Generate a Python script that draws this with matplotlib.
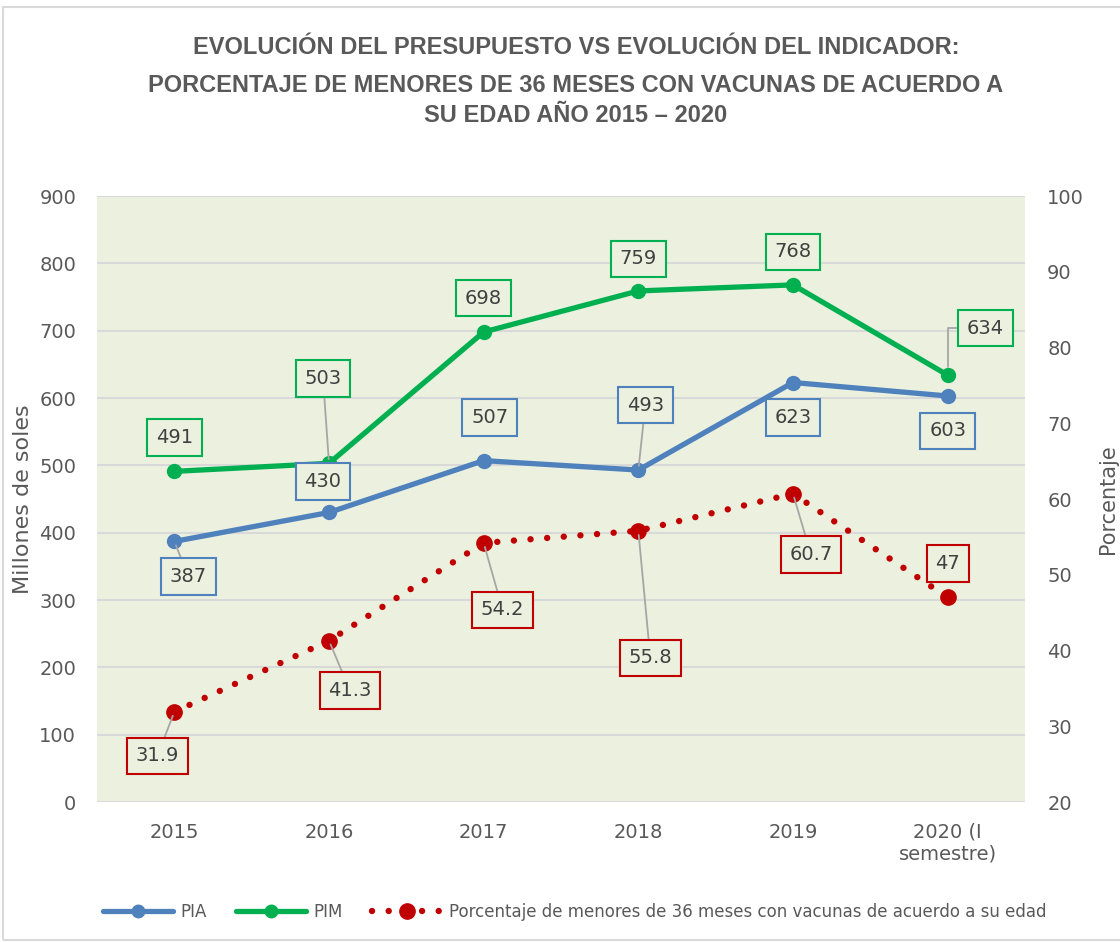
import matplotlib
matplotlib.use('Agg')
import matplotlib.pyplot as plt
from matplotlib.lines import Line2D
from matplotlib.patches import Rectangle

years = ['2015', '2016', '2017', '2018', '2019', '2020 (I\nsemestre)']
pia = [387, 430, 507, 493, 623, 603]
pim = [491, 503, 698, 759, 768, 634]
pct = [31.9, 41.3, 54.2, 55.8, 60.7, 47]
pct_labels = ['31.9', '41.3', '54.2', '55.8', '60.7', '47']

# label offsets in pixels (dx, dy) and whether a leader line is drawn
pia_off = [(14, -35, True), (-6, 31, False), (6, 43, False), (7, 65, True), (0, -35, False), (0, -35, False)]
pim_off = [(0, 34, False), (-6, 85, True), (0, 34, False), (0, 32, False), (0, 33, False), (38, 47, 'elbow')]
pct_off = [(-17, -44, True), (21, -50, True), (19, -67, True), (12, -127, True), (18, -61, True), (0, 34, False)]

c_pia = '#4F81BD'
c_pim = '#00B050'
c_pct = '#C00000'
c_txt = '#595959'
c_bg = '#EBF0DF'

plt.rcParams['font.family'] = ['DejaVu Sans']

fig = plt.figure(figsize=(11.2, 9.42), dpi=100)
fig.patches.append(Rectangle((3 / 1120, 2 / 942), 1.2, 1 - 9 / 942, transform=fig.transFigure,
                             fill=False, edgecolor='#D9D9D9', linewidth=1.5))

ax = fig.add_axes([97 / 1120, 1 - 802 / 942, 928 / 1120, 606 / 942])
ax.set_facecolor(c_bg)
x = list(range(len(years)))
ax.set_xlim(-0.5, len(years) - 0.5)
ax.set_ylim(0, 900)
ax.set_yticks(range(0, 1000, 100))
ax.grid(axis='y', color='#D9D9D9', linewidth=1.5)
ax.set_axisbelow(True)
for s in ax.spines.values():
    s.set_visible(False)
ax.tick_params(length=0, labelsize=14, labelcolor=c_txt, pad=15)
ax.tick_params(axis='x', pad=15)
ax.set_xticks(x)
ax.set_xticklabels(years, fontsize=14, color=c_txt)
ax.set_ylabel('Millones de soles', fontsize=16, color=c_txt)
ax.yaxis.set_label_coords(-0.069, 0.5)

ax.plot(x, pia, color=c_pia, linewidth=3.8, marker='o', markersize=10, solid_capstyle='round', zorder=3)
ax.plot(x, pim, color=c_pim, linewidth=3.8, marker='o', markersize=10, solid_capstyle='round', zorder=3)

ax2 = ax.twinx()
ax2.set_ylim(20, 100)
ax2.set_yticks(range(20, 110, 10))
for s in ax2.spines.values():
    s.set_visible(False)
ax2.tick_params(length=0, labelsize=14, labelcolor=c_txt, pad=16)
ax2.set_ylabel('Porcentaje', fontsize=15, color=c_txt)
ax2.yaxis.set_label_coords(1.079, 0.5)
ax2.plot(x, pct, color=c_pct, linewidth=4.6, linestyle=(0, (0.01, 2.6)), dash_capstyle='round', zorder=3)
ax2.plot(x, pct, color=c_pct, linestyle='none', marker='o', markersize=11, zorder=4)


def add_labels(axis, vals, texts, offs, color):
    for i, (v, t, o) in enumerate(zip(vals, texts, offs)):
        dx, dy, lead = o
        ap = None
        if lead == 'elbow':
            ap = dict(arrowstyle='-', color='#A6A6A6', lw=1.3, shrinkA=0, shrinkB=6,
                      connectionstyle='angle,angleA=0,angleB=90,rad=0')
        elif lead:
            ap = dict(arrowstyle='-', color='#A6A6A6', lw=1.3, shrinkA=0, shrinkB=3)
        axis.annotate(t, (i, v), xytext=(dx, dy), textcoords='offset pixels',
                      ha='center', va='center', fontsize=14, color='#404040', zorder=5,
                      bbox=dict(boxstyle='square,pad=0.45', facecolor=c_bg, edgecolor=color, lw=1.5),
                      arrowprops=ap)


add_labels(ax, pia, [str(v) for v in pia], pia_off, c_pia)
add_labels(ax, pim, [str(v) for v in pim], pim_off, c_pim)
add_labels(ax2, pct, pct_labels, pct_off, c_pct)

title_font = ['Liberation Sans Narrow', 'Liberation Sans']
fig.text(576 / 1120, 1 - 48 / 942, 'EVOLUCIÓN DEL PRESUPUESTO VS EVOLUCIÓN DEL INDICADOR:',
         ha='center', va='center', fontsize=17, fontweight='bold', color=c_txt, family=title_font)
fig.text(576 / 1120, 1 - 86 / 942, 'PORCENTAJE DE MENORES DE 36 MESES CON VACUNAS DE ACUERDO A',
         ha='center', va='center', fontsize=17, fontweight='bold', color=c_txt, family=title_font)
fig.text(576 / 1120, 1 - 115 / 942, 'SU EDAD AÑO 2015 – 2020',
         ha='center', va='center', fontsize=17, fontweight='bold', color=c_txt, family=title_font)

handles = [
    Line2D([], [], color=c_pia, linewidth=3.8, marker='o', markersize=9, solid_capstyle='round'),
    Line2D([], [], color=c_pim, linewidth=3.8, marker='o', markersize=9, solid_capstyle='round'),
    Line2D([], [], color=c_pct, linewidth=4.6, linestyle=(0, (0.01, 2.6)), dash_capstyle='round',
           marker='o', markersize=11),
]
fig.legend(handles, ['PIA', 'PIM', 'Porcentaje de menores de 36 meses con vacunas de acuerdo a su edad'],
           loc='center', bbox_to_anchor=(575 / 1120, 1 - 912 / 942), ncol=3, frameon=False,
           fontsize=12, labelcolor=c_txt, handlelength=4.2, handletextpad=0.4, columnspacing=1.8)

fig.savefig('out.png', dpi=100)
